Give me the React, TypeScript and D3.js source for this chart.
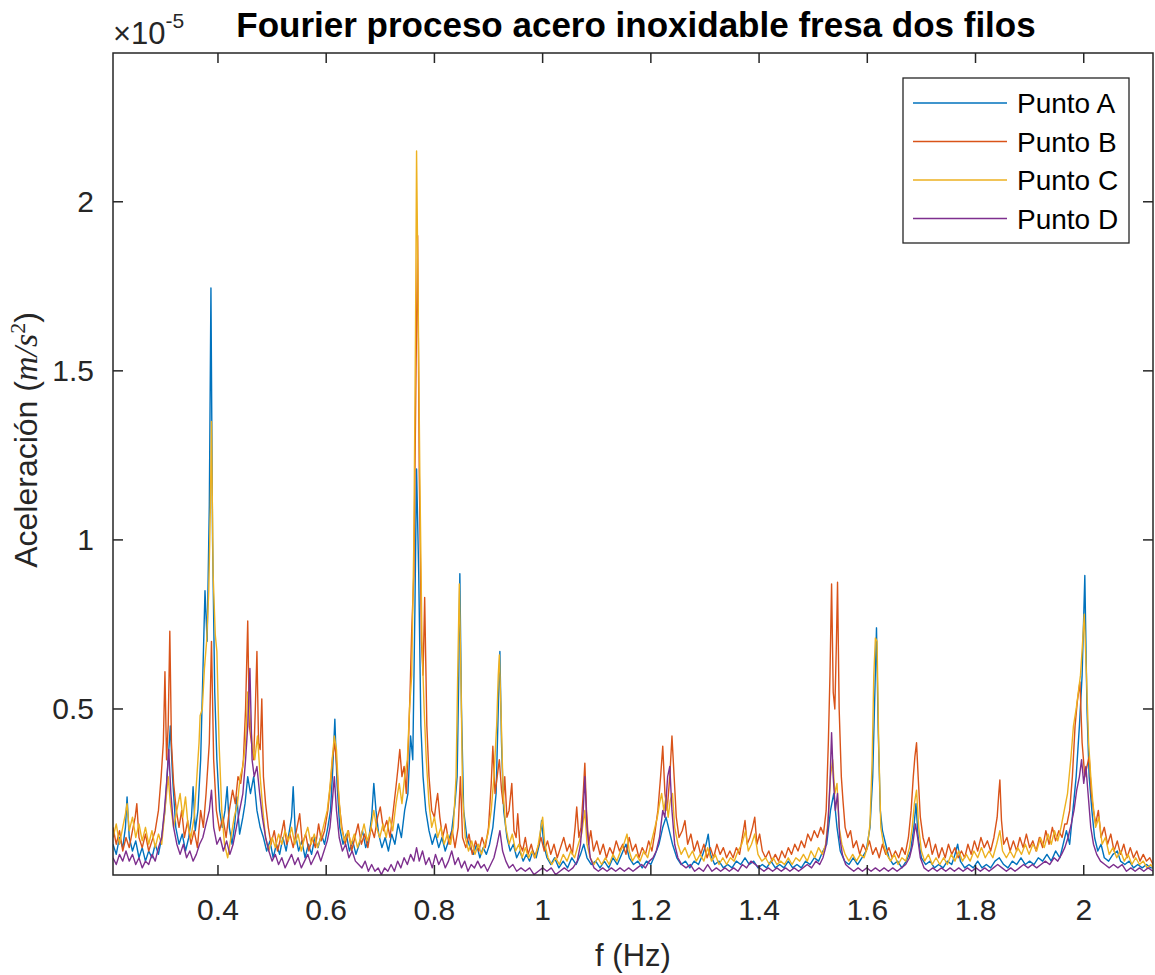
import React from "react";
import * as d3 from "d3";

const seriesNames = ["Punto A", "Punto B", "Punto C", "Punto D"];
const seriesColors = ["#0072BD", "#D95319", "#EDB120", "#7E2F8E"];
const xTicks = [0.4, 0.6, 0.8, 1, 1.2, 1.4, 1.6, 1.8, 2];
const yTicks = [0.5, 1, 1.5, 2];
const xDomain = [0.206, 2.128];
const yDomain = [0.009, 2.44];

// [frequency (Hz), acceleration (x1e-5 m/s^2)]
const puntoA: [number, number][] = [[0.206,0.10],[0.212,0.07],[0.218,0.12],[0.224,0.09],[0.229,0.15],[0.232,0.24],[0.236,0.12],[0.242,0.08],[0.248,0.11],[0.254,0.06],[0.26,0.09],[0.266,0.05],[0.272,0.08],[0.278,0.06],[0.284,0.1],[0.29,0.07],[0.296,0.12],[0.302,0.2],[0.308,0.35],[0.312,0.45],[0.316,0.3],[0.322,0.15],[0.328,0.1],[0.334,0.13],[0.34,0.08],[0.346,0.12],[0.351,0.18],[0.354,0.27],[0.358,0.14],[0.363,0.2],[0.368,0.35],[0.372,0.6],[0.376,0.85],[0.38,0.7],[0.384,1.1],[0.387,1.745],[0.39,1.0],[0.394,0.55],[0.398,0.35],[0.403,0.2],[0.408,0.15],[0.413,0.2],[0.417,0.27],[0.421,0.15],[0.426,0.1],[0.431,0.16],[0.435,0.24],[0.44,0.13],[0.446,0.18],[0.45,0.22],[0.455,0.3],[0.46,0.25],[0.466,0.3],[0.472,0.2],[0.478,0.15],[0.484,0.12],[0.49,0.08],[0.496,0.11],[0.502,0.06],[0.508,0.1],[0.514,0.07],[0.52,0.12],[0.526,0.08],[0.532,0.14],[0.536,0.18],[0.539,0.27],[0.543,0.13],[0.549,0.08],[0.555,0.11],[0.561,0.06],[0.567,0.1],[0.573,0.07],[0.579,0.12],[0.585,0.09],[0.591,0.13],[0.597,0.1],[0.603,0.15],[0.608,0.2],[0.612,0.32],[0.616,0.47],[0.62,0.28],[0.625,0.15],[0.631,0.1],[0.637,0.13],[0.643,0.08],[0.649,0.11],[0.655,0.07],[0.661,0.1],[0.667,0.14],[0.673,0.09],[0.679,0.12],[0.684,0.18],[0.688,0.28],[0.692,0.2],[0.697,0.13],[0.703,0.09],[0.709,0.12],[0.715,0.08],[0.721,0.13],[0.727,0.1],[0.733,0.16],[0.739,0.12],[0.745,0.2],[0.751,0.25],[0.756,0.42],[0.76,0.35],[0.764,0.8],[0.767,1.21],[0.771,0.9],[0.775,0.45],[0.779,0.3],[0.784,0.2],[0.79,0.14],[0.796,0.1],[0.802,0.13],[0.808,0.09],[0.814,0.12],[0.82,0.08],[0.826,0.11],[0.832,0.14],[0.838,0.22],[0.842,0.3],[0.845,0.6],[0.847,0.9],[0.85,0.5],[0.854,0.2],[0.86,0.12],[0.866,0.09],[0.872,0.07],[0.878,0.1],[0.884,0.06],[0.89,0.09],[0.896,0.07],[0.902,0.1],[0.908,0.15],[0.914,0.25],[0.918,0.5],[0.921,0.67],[0.924,0.4],[0.928,0.2],[0.934,0.12],[0.94,0.08],[0.946,0.1],[0.952,0.06],[0.958,0.08],[0.964,0.05],[0.97,0.07],[0.976,0.05],[0.982,0.08],[0.988,0.06],[0.994,0.1],[0.998,0.17],[1.002,0.1],[1.008,0.06],[1.015,0.04],[1.022,0.06],[1.03,0.03],[1.038,0.05],[1.046,0.03],[1.054,0.06],[1.062,0.04],[1.07,0.07],[1.076,0.1],[1.082,0.06],[1.09,0.04],[1.098,0.05],[1.106,0.03],[1.114,0.05],[1.122,0.03],[1.13,0.06],[1.138,0.04],[1.146,0.07],[1.154,0.1],[1.16,0.06],[1.168,0.04],[1.176,0.05],[1.184,0.03],[1.192,0.05],[1.2,0.04],[1.208,0.07],[1.215,0.1],[1.222,0.15],[1.228,0.18],[1.234,0.14],[1.24,0.1],[1.248,0.06],[1.256,0.04],[1.264,0.05],[1.272,0.03],[1.28,0.05],[1.288,0.04],[1.296,0.07],[1.302,0.1],[1.306,0.13],[1.31,0.07],[1.318,0.04],[1.326,0.05],[1.334,0.03],[1.342,0.04],[1.35,0.03],[1.358,0.05],[1.366,0.04],[1.374,0.06],[1.382,0.04],[1.39,0.05],[1.398,0.03],[1.406,0.04],[1.414,0.03],[1.422,0.05],[1.43,0.03],[1.438,0.04],[1.446,0.03],[1.454,0.05],[1.462,0.03],[1.47,0.04],[1.478,0.03],[1.486,0.05],[1.494,0.04],[1.502,0.06],[1.51,0.05],[1.518,0.08],[1.525,0.1],[1.532,0.2],[1.538,0.25],[1.544,0.15],[1.55,0.08],[1.558,0.05],[1.566,0.04],[1.574,0.06],[1.582,0.04],[1.59,0.06],[1.598,0.08],[1.605,0.15],[1.61,0.3],[1.614,0.55],[1.617,0.74],[1.62,0.45],[1.624,0.2],[1.628,0.14],[1.634,0.1],[1.64,0.06],[1.648,0.04],[1.656,0.05],[1.664,0.03],[1.672,0.05],[1.68,0.08],[1.686,0.15],[1.69,0.22],[1.694,0.12],[1.7,0.06],[1.708,0.04],[1.716,0.05],[1.724,0.03],[1.732,0.04],[1.74,0.03],[1.748,0.05],[1.756,0.04],[1.762,0.07],[1.767,0.1],[1.772,0.05],[1.78,0.03],[1.788,0.04],[1.796,0.03],[1.804,0.05],[1.812,0.03],[1.82,0.04],[1.828,0.03],[1.836,0.05],[1.844,0.06],[1.852,0.04],[1.86,0.03],[1.868,0.05],[1.876,0.04],[1.884,0.06],[1.892,0.04],[1.9,0.05],[1.908,0.04],[1.916,0.06],[1.924,0.05],[1.932,0.07],[1.94,0.05],[1.948,0.08],[1.956,0.06],[1.962,0.1],[1.968,0.14],[1.974,0.1],[1.98,0.2],[1.986,0.3],[1.992,0.45],[1.997,0.6],[2.002,0.895],[2.006,0.5],[2.01,0.3],[2.015,0.2],[2.02,0.12],[2.026,0.08],[2.032,0.1],[2.038,0.06],[2.046,0.05],[2.054,0.07],[2.062,0.08],[2.068,0.05],[2.076,0.04],[2.084,0.05],[2.092,0.03],[2.1,0.04],[2.108,0.03],[2.116,0.04],[2.124,0.03],[2.128,0.03]];

const puntoB: [number, number][] = [[0.206,0.15],[0.212,0.1],[0.218,0.14],[0.224,0.08],[0.23,0.12],[0.236,0.09],[0.242,0.14],[0.247,0.18],[0.25,0.22],[0.254,0.12],[0.26,0.09],[0.266,0.13],[0.272,0.08],[0.278,0.11],[0.284,0.14],[0.29,0.2],[0.295,0.3],[0.299,0.4],[0.302,0.61],[0.305,0.35],[0.308,0.45],[0.311,0.73],[0.314,0.4],[0.318,0.28],[0.323,0.2],[0.328,0.15],[0.333,0.2],[0.338,0.12],[0.344,0.17],[0.35,0.1],[0.356,0.14],[0.362,0.09],[0.368,0.2],[0.373,0.15],[0.378,0.25],[0.384,0.4],[0.388,0.7],[0.392,0.35],[0.397,0.2],[0.403,0.14],[0.409,0.18],[0.415,0.12],[0.421,0.2],[0.427,0.26],[0.432,0.22],[0.437,0.3],[0.442,0.28],[0.447,0.35],[0.451,0.5],[0.455,0.76],[0.458,0.45],[0.462,0.4],[0.466,0.35],[0.469,0.5],[0.472,0.67],[0.475,0.4],[0.478,0.38],[0.481,0.53],[0.484,0.3],[0.488,0.22],[0.493,0.15],[0.498,0.1],[0.504,0.14],[0.51,0.08],[0.516,0.12],[0.522,0.17],[0.527,0.1],[0.533,0.13],[0.539,0.09],[0.545,0.14],[0.551,0.19],[0.556,0.1],[0.562,0.13],[0.568,0.08],[0.574,0.12],[0.58,0.09],[0.586,0.16],[0.591,0.11],[0.597,0.14],[0.603,0.2],[0.608,0.28],[0.612,0.36],[0.616,0.4],[0.62,0.32],[0.624,0.22],[0.629,0.15],[0.635,0.1],[0.641,0.14],[0.647,0.08],[0.653,0.12],[0.659,0.16],[0.665,0.1],[0.671,0.13],[0.677,0.09],[0.683,0.15],[0.689,0.12],[0.695,0.18],[0.7,0.21],[0.706,0.14],[0.712,0.17],[0.718,0.12],[0.724,0.2],[0.729,0.27],[0.733,0.33],[0.736,0.38],[0.74,0.3],[0.744,0.33],[0.748,0.25],[0.752,0.4],[0.755,0.55],[0.758,0.73],[0.762,0.9],[0.766,1.5],[0.769,1.9],[0.772,1.2],[0.776,0.7],[0.779,0.6],[0.782,0.83],[0.786,0.45],[0.79,0.3],[0.795,0.2],[0.8,0.18],[0.803,0.22],[0.806,0.25],[0.81,0.18],[0.815,0.12],[0.821,0.16],[0.827,0.1],[0.833,0.14],[0.838,0.09],[0.844,0.15],[0.848,0.3],[0.852,0.12],[0.858,0.09],[0.864,0.13],[0.87,0.07],[0.876,0.11],[0.882,0.08],[0.888,0.12],[0.894,0.09],[0.9,0.15],[0.905,0.28],[0.908,0.39],[0.912,0.25],[0.916,0.3],[0.92,0.35],[0.924,0.26],[0.927,0.22],[0.93,0.3],[0.934,0.18],[0.938,0.2],[0.943,0.28],[0.947,0.14],[0.951,0.12],[0.954,0.19],[0.958,0.1],[0.963,0.08],[0.968,0.12],[0.973,0.07],[0.979,0.1],[0.985,0.06],[0.991,0.09],[0.997,0.12],[1.003,0.08],[1.009,0.11],[1.015,0.07],[1.021,0.1],[1.027,0.06],[1.033,0.09],[1.039,0.12],[1.045,0.08],[1.05,0.1],[1.055,0.07],[1.06,0.15],[1.063,0.21],[1.067,0.12],[1.071,0.15],[1.075,0.25],[1.078,0.34],[1.081,0.2],[1.085,0.1],[1.089,0.14],[1.094,0.08],[1.1,0.11],[1.106,0.07],[1.112,0.1],[1.118,0.06],[1.124,0.09],[1.13,0.07],[1.136,0.11],[1.142,0.08],[1.148,0.1],[1.154,0.07],[1.16,0.12],[1.166,0.08],[1.172,0.1],[1.178,0.06],[1.184,0.09],[1.19,0.07],[1.196,0.11],[1.202,0.08],[1.208,0.14],[1.213,0.2],[1.218,0.3],[1.222,0.39],[1.226,0.25],[1.23,0.2],[1.235,0.3],[1.239,0.42],[1.243,0.3],[1.247,0.18],[1.252,0.12],[1.258,0.14],[1.263,0.17],[1.268,0.1],[1.274,0.13],[1.28,0.08],[1.286,0.11],[1.292,0.07],[1.298,0.1],[1.304,0.06],[1.31,0.09],[1.316,0.06],[1.322,0.1],[1.328,0.07],[1.334,0.09],[1.34,0.06],[1.346,0.08],[1.352,0.06],[1.358,0.09],[1.364,0.07],[1.369,0.12],[1.374,0.17],[1.378,0.1],[1.383,0.12],[1.388,0.15],[1.392,0.18],[1.396,0.1],[1.401,0.13],[1.406,0.08],[1.412,0.06],[1.418,0.08],[1.424,0.05],[1.43,0.07],[1.436,0.05],[1.442,0.08],[1.448,0.06],[1.454,0.09],[1.46,0.07],[1.466,0.1],[1.472,0.08],[1.478,0.11],[1.484,0.09],[1.49,0.13],[1.496,0.11],[1.502,0.14],[1.508,0.12],[1.514,0.15],[1.519,0.13],[1.524,0.2],[1.528,0.4],[1.531,0.6],[1.534,0.87],[1.537,0.55],[1.54,0.5],[1.543,0.7],[1.545,0.875],[1.548,0.5],[1.552,0.3],[1.555,0.23],[1.559,0.15],[1.564,0.12],[1.569,0.14],[1.574,0.09],[1.58,0.11],[1.586,0.07],[1.592,0.1],[1.598,0.08],[1.604,0.11],[1.61,0.07],[1.616,0.09],[1.622,0.06],[1.628,0.1],[1.634,0.07],[1.64,0.09],[1.646,0.06],[1.652,0.08],[1.658,0.06],[1.664,0.09],[1.67,0.07],[1.676,0.12],[1.681,0.2],[1.685,0.3],[1.688,0.36],[1.691,0.4],[1.694,0.3],[1.698,0.18],[1.703,0.12],[1.708,0.09],[1.714,0.12],[1.72,0.07],[1.726,0.1],[1.732,0.06],[1.738,0.09],[1.744,0.06],[1.75,0.1],[1.756,0.07],[1.762,0.09],[1.768,0.06],[1.774,0.08],[1.78,0.06],[1.786,0.1],[1.792,0.07],[1.798,0.11],[1.804,0.08],[1.81,0.12],[1.816,0.09],[1.822,0.11],[1.828,0.08],[1.834,0.12],[1.84,0.18],[1.843,0.25],[1.845,0.29],[1.848,0.17],[1.852,0.1],[1.858,0.12],[1.864,0.08],[1.87,0.11],[1.876,0.08],[1.882,0.12],[1.888,0.09],[1.894,0.13],[1.9,0.09],[1.906,0.11],[1.912,0.08],[1.918,0.12],[1.924,0.09],[1.93,0.14],[1.936,0.1],[1.942,0.15],[1.948,0.11],[1.954,0.14],[1.96,0.12],[1.965,0.16],[1.969,0.16],[1.974,0.2],[1.979,0.3],[1.984,0.45],[1.988,0.52],[1.993,0.58],[1.997,0.4],[2.002,0.3],[2.006,0.33],[2.01,0.36],[2.014,0.25],[2.018,0.2],[2.022,0.16],[2.027,0.2],[2.032,0.12],[2.038,0.15],[2.044,0.1],[2.05,0.13],[2.056,0.08],[2.062,0.11],[2.068,0.07],[2.074,0.1],[2.08,0.06],[2.086,0.09],[2.092,0.06],[2.098,0.08],[2.104,0.05],[2.11,0.07],[2.116,0.05],[2.122,0.06],[2.128,0.04]];

const puntoC: [number, number][] = [[0.206,0.12],[0.212,0.16],[0.218,0.1],[0.224,0.15],[0.229,0.19],[0.232,0.22],[0.236,0.14],[0.242,0.18],[0.248,0.12],[0.254,0.16],[0.26,0.11],[0.266,0.15],[0.272,0.1],[0.278,0.14],[0.284,0.09],[0.29,0.13],[0.296,0.1],[0.302,0.2],[0.308,0.3],[0.312,0.22],[0.318,0.15],[0.324,0.2],[0.33,0.25],[0.335,0.18],[0.34,0.24],[0.345,0.15],[0.35,0.12],[0.356,0.18],[0.361,0.3],[0.365,0.4],[0.367,0.48],[0.371,0.5],[0.375,0.62],[0.379,0.7],[0.383,0.85],[0.386,1.1],[0.388,1.35],[0.391,0.9],[0.395,0.72],[0.398,0.67],[0.402,0.4],[0.407,0.2],[0.412,0.1],[0.418,0.06],[0.424,0.12],[0.43,0.18],[0.436,0.22],[0.441,0.3],[0.446,0.33],[0.451,0.4],[0.455,0.55],[0.459,0.48],[0.463,0.4],[0.468,0.35],[0.473,0.42],[0.478,0.3],[0.483,0.2],[0.488,0.12],[0.494,0.08],[0.5,0.12],[0.506,0.09],[0.512,0.13],[0.518,0.1],[0.524,0.14],[0.53,0.11],[0.536,0.15],[0.542,0.1],[0.548,0.13],[0.554,0.08],[0.56,0.12],[0.566,0.15],[0.572,0.1],[0.578,0.13],[0.584,0.09],[0.59,0.12],[0.596,0.16],[0.602,0.2],[0.607,0.27],[0.611,0.35],[0.615,0.42],[0.619,0.38],[0.623,0.25],[0.628,0.15],[0.634,0.11],[0.64,0.14],[0.646,0.1],[0.652,0.13],[0.658,0.09],[0.664,0.12],[0.67,0.16],[0.676,0.11],[0.682,0.14],[0.688,0.2],[0.693,0.15],[0.699,0.12],[0.705,0.16],[0.711,0.12],[0.717,0.18],[0.723,0.14],[0.729,0.22],[0.735,0.28],[0.74,0.22],[0.745,0.3],[0.75,0.35],[0.754,0.5],[0.758,0.6],[0.762,1.0],[0.765,1.6],[0.767,2.15],[0.77,1.7],[0.773,1.2],[0.777,0.7],[0.781,0.5],[0.785,0.35],[0.79,0.22],[0.795,0.15],[0.8,0.18],[0.806,0.12],[0.812,0.15],[0.818,0.1],[0.824,0.13],[0.83,0.1],[0.835,0.15],[0.84,0.3],[0.843,0.6],[0.846,0.87],[0.849,0.6],[0.852,0.25],[0.857,0.12],[0.863,0.08],[0.869,0.11],[0.875,0.07],[0.881,0.1],[0.887,0.07],[0.893,0.1],[0.899,0.13],[0.905,0.2],[0.91,0.3],[0.915,0.45],[0.918,0.6],[0.92,0.66],[0.923,0.5],[0.927,0.25],[0.932,0.15],[0.938,0.1],[0.944,0.13],[0.95,0.08],[0.956,0.1],[0.962,0.06],[0.968,0.09],[0.974,0.06],[0.98,0.08],[0.986,0.06],[0.992,0.1],[0.996,0.14],[1.0,0.18],[1.004,0.1],[1.01,0.06],[1.017,0.04],[1.024,0.06],[1.031,0.04],[1.038,0.07],[1.045,0.05],[1.052,0.08],[1.059,0.06],[1.066,0.1],[1.072,0.13],[1.078,0.2],[1.082,0.1],[1.088,0.06],[1.095,0.04],[1.102,0.06],[1.109,0.04],[1.116,0.06],[1.123,0.04],[1.13,0.07],[1.137,0.05],[1.144,0.08],[1.15,0.1],[1.156,0.13],[1.16,0.08],[1.166,0.05],[1.173,0.07],[1.18,0.05],[1.187,0.08],[1.194,0.06],[1.2,0.1],[1.206,0.14],[1.212,0.18],[1.216,0.22],[1.22,0.25],[1.224,0.2],[1.228,0.24],[1.232,0.18],[1.236,0.23],[1.24,0.25],[1.244,0.15],[1.25,0.1],[1.256,0.07],[1.263,0.09],[1.27,0.06],[1.277,0.08],[1.284,0.05],[1.291,0.07],[1.298,0.05],[1.305,0.09],[1.312,0.05],[1.319,0.07],[1.326,0.04],[1.333,0.06],[1.34,0.04],[1.347,0.06],[1.354,0.05],[1.361,0.08],[1.368,0.1],[1.375,0.14],[1.38,0.08],[1.386,0.1],[1.392,0.13],[1.398,0.07],[1.405,0.05],[1.412,0.06],[1.419,0.04],[1.426,0.06],[1.433,0.04],[1.44,0.05],[1.447,0.04],[1.454,0.06],[1.461,0.04],[1.468,0.06],[1.475,0.05],[1.482,0.07],[1.489,0.05],[1.496,0.08],[1.503,0.06],[1.51,0.09],[1.517,0.07],[1.523,0.1],[1.528,0.18],[1.532,0.3],[1.536,0.35],[1.54,0.25],[1.544,0.28],[1.548,0.15],[1.553,0.1],[1.559,0.07],[1.566,0.05],[1.573,0.07],[1.58,0.05],[1.587,0.07],[1.594,0.06],[1.6,0.09],[1.605,0.16],[1.609,0.35],[1.612,0.6],[1.615,0.71],[1.618,0.7],[1.621,0.4],[1.625,0.15],[1.63,0.1],[1.636,0.07],[1.643,0.05],[1.65,0.07],[1.657,0.04],[1.664,0.06],[1.671,0.05],[1.678,0.09],[1.683,0.15],[1.687,0.22],[1.691,0.26],[1.695,0.15],[1.7,0.08],[1.706,0.05],[1.713,0.07],[1.72,0.04],[1.727,0.06],[1.734,0.04],[1.741,0.06],[1.748,0.04],[1.755,0.07],[1.762,0.05],[1.769,0.08],[1.776,0.05],[1.783,0.07],[1.79,0.05],[1.797,0.08],[1.804,0.06],[1.811,0.09],[1.818,0.06],[1.825,0.08],[1.832,0.06],[1.839,0.1],[1.845,0.14],[1.85,0.08],[1.857,0.06],[1.864,0.08],[1.871,0.06],[1.878,0.09],[1.885,0.07],[1.892,0.1],[1.899,0.07],[1.906,0.1],[1.913,0.08],[1.92,0.12],[1.927,0.09],[1.934,0.13],[1.94,0.1],[1.946,0.14],[1.952,0.11],[1.958,0.15],[1.964,0.2],[1.97,0.25],[1.976,0.35],[1.981,0.45],[1.986,0.5],[1.99,0.55],[1.994,0.6],[1.998,0.7],[2.001,0.78],[2.005,0.6],[2.009,0.4],[2.013,0.3],[2.017,0.22],[2.022,0.15],[2.028,0.18],[2.034,0.1],[2.04,0.12],[2.047,0.07],[2.054,0.09],[2.061,0.06],[2.068,0.08],[2.075,0.05],[2.082,0.07],[2.089,0.04],[2.096,0.06],[2.103,0.04],[2.11,0.05],[2.117,0.03],[2.124,0.04],[2.128,0.03]];

const puntoD: [number, number][] = [[0.206,0.06],[0.212,0.04],[0.218,0.07],[0.224,0.05],[0.23,0.08],[0.236,0.05],[0.242,0.07],[0.248,0.04],[0.254,0.06],[0.26,0.03],[0.266,0.05],[0.272,0.04],[0.278,0.07],[0.284,0.05],[0.29,0.09],[0.296,0.12],[0.301,0.2],[0.305,0.28],[0.309,0.38],[0.313,0.25],[0.318,0.15],[0.324,0.1],[0.33,0.07],[0.336,0.1],[0.342,0.06],[0.348,0.08],[0.354,0.05],[0.36,0.07],[0.366,0.1],[0.372,0.12],[0.378,0.16],[0.384,0.2],[0.388,0.26],[0.392,0.15],[0.398,0.1],[0.404,0.12],[0.41,0.08],[0.416,0.11],[0.422,0.07],[0.428,0.1],[0.434,0.15],[0.44,0.2],[0.446,0.25],[0.451,0.35],[0.455,0.45],[0.459,0.62],[0.463,0.35],[0.467,0.3],[0.472,0.33],[0.477,0.25],[0.482,0.18],[0.488,0.12],[0.494,0.08],[0.5,0.05],[0.506,0.07],[0.512,0.04],[0.518,0.06],[0.524,0.03],[0.53,0.05],[0.536,0.07],[0.542,0.04],[0.548,0.06],[0.554,0.03],[0.56,0.05],[0.566,0.07],[0.572,0.04],[0.578,0.06],[0.584,0.08],[0.59,0.05],[0.596,0.08],[0.602,0.11],[0.607,0.15],[0.611,0.22],[0.615,0.3],[0.619,0.2],[0.624,0.12],[0.63,0.08],[0.636,0.1],[0.642,0.06],[0.648,0.08],[0.654,0.05],[0.66,0.04],[0.666,0.03],[0.672,0.05],[0.678,0.02],[0.684,0.04],[0.69,0.02],[0.696,0.03],[0.702,0.01],[0.708,0.03],[0.714,0.02],[0.72,0.04],[0.726,0.02],[0.732,0.05],[0.738,0.03],[0.744,0.06],[0.75,0.04],[0.756,0.07],[0.762,0.05],[0.767,0.09],[0.772,0.05],[0.778,0.08],[0.784,0.04],[0.79,0.06],[0.796,0.03],[0.802,0.07],[0.808,0.04],[0.814,0.06],[0.82,0.03],[0.826,0.05],[0.832,0.08],[0.838,0.04],[0.844,0.06],[0.85,0.03],[0.856,0.05],[0.862,0.02],[0.868,0.04],[0.874,0.03],[0.88,0.05],[0.886,0.03],[0.892,0.04],[0.898,0.02],[0.904,0.04],[0.91,0.06],[0.916,0.1],[0.921,0.14],[0.926,0.08],[0.932,0.05],[0.938,0.03],[0.945,0.04],[0.952,0.02],[0.96,0.03],[0.968,0.02],[0.976,0.03],[0.984,0.01],[0.992,0.02],[1.0,0.03],[1.008,0.02],[1.016,0.03],[1.024,0.01],[1.032,0.02],[1.04,0.03],[1.048,0.02],[1.056,0.03],[1.064,0.05],[1.07,0.1],[1.075,0.2],[1.078,0.3],[1.082,0.15],[1.088,0.06],[1.095,0.03],[1.103,0.02],[1.111,0.03],[1.119,0.02],[1.127,0.03],[1.135,0.02],[1.143,0.03],[1.151,0.02],[1.159,0.03],[1.167,0.02],[1.175,0.03],[1.183,0.04],[1.19,0.03],[1.197,0.05],[1.204,0.06],[1.21,0.08],[1.216,0.12],[1.222,0.2],[1.226,0.18],[1.231,0.3],[1.235,0.33],[1.239,0.2],[1.244,0.1],[1.25,0.06],[1.257,0.04],[1.265,0.03],[1.273,0.04],[1.281,0.02],[1.289,0.03],[1.297,0.02],[1.305,0.04],[1.313,0.02],[1.321,0.03],[1.329,0.02],[1.337,0.03],[1.345,0.02],[1.353,0.03],[1.361,0.02],[1.369,0.04],[1.377,0.03],[1.385,0.05],[1.393,0.04],[1.401,0.03],[1.409,0.02],[1.417,0.03],[1.425,0.02],[1.433,0.03],[1.441,0.02],[1.449,0.03],[1.457,0.02],[1.465,0.03],[1.473,0.02],[1.481,0.03],[1.489,0.04],[1.497,0.03],[1.505,0.05],[1.512,0.04],[1.518,0.06],[1.523,0.09],[1.527,0.15],[1.531,0.28],[1.534,0.43],[1.537,0.3],[1.541,0.2],[1.545,0.25],[1.549,0.12],[1.554,0.07],[1.56,0.04],[1.567,0.03],[1.575,0.02],[1.583,0.03],[1.591,0.02],[1.599,0.03],[1.607,0.02],[1.615,0.03],[1.623,0.02],[1.631,0.03],[1.639,0.02],[1.647,0.03],[1.655,0.02],[1.663,0.03],[1.671,0.04],[1.678,0.06],[1.684,0.1],[1.689,0.16],[1.693,0.12],[1.698,0.06],[1.705,0.03],[1.713,0.02],[1.721,0.03],[1.729,0.02],[1.737,0.03],[1.745,0.02],[1.753,0.03],[1.761,0.02],[1.769,0.03],[1.777,0.02],[1.785,0.03],[1.793,0.02],[1.801,0.03],[1.809,0.02],[1.817,0.03],[1.825,0.02],[1.833,0.03],[1.841,0.04],[1.849,0.03],[1.857,0.02],[1.865,0.03],[1.873,0.02],[1.881,0.03],[1.889,0.04],[1.897,0.03],[1.905,0.04],[1.913,0.03],[1.921,0.04],[1.929,0.05],[1.937,0.04],[1.945,0.06],[1.952,0.05],[1.959,0.07],[1.965,0.09],[1.971,0.12],[1.977,0.16],[1.982,0.2],[1.987,0.26],[1.992,0.3],[1.996,0.35],[2.0,0.28],[2.004,0.33],[2.008,0.25],[2.013,0.15],[2.018,0.1],[2.024,0.07],[2.031,0.05],[2.039,0.04],[2.047,0.03],[2.055,0.04],[2.063,0.03],[2.071,0.04],[2.079,0.02],[2.087,0.03],[2.095,0.02],[2.103,0.03],[2.111,0.02],[2.119,0.03],[2.128,0.02]];

const allSeries = [puntoA, puntoB, puntoC, puntoD];

const W = 1155;
const H = 975;
const M = { left: 113, right: 1153, top: 53, bottom: 875 };
const AX = "#262626";
const SANS = "'Liberation Sans', Arial, Helvetica, sans-serif";
const SERIF = "'Liberation Serif', 'DejaVu Serif', serif";

export default function App() {
  const x = d3.scaleLinear().domain(xDomain).range([M.left, M.right]);
  const y = d3.scaleLinear().domain(yDomain).range([M.bottom, M.top]);
  const line = d3
    .line<[number, number]>()
    .x((d) => x(d[0]))
    .y((d) => y(d[1]));
  const tickLen = 10;

  return (
    <svg
      width={W}
      height={H}
      style={{ position: "absolute", left: 0, top: 0, background: "#fff" }}
      fontFamily={SANS}
    >
      <rect x={0} y={0} width={W} height={H} fill="#fff" />
      <defs>
        <clipPath id="plotclip">
          <rect x={M.left} y={M.top} width={M.right - M.left} height={M.bottom - M.top} />
        </clipPath>
      </defs>
      <g clipPath="url(#plotclip)">
        {allSeries.map((s, i) => (
          <path
            key={i}
            d={line(s) || ""}
            fill="none"
            stroke={seriesColors[i]}
            strokeWidth={1.4}
            strokeLinejoin="round"
          />
        ))}
      </g>
      <rect
        x={M.left}
        y={M.top}
        width={M.right - M.left}
        height={M.bottom - M.top}
        fill="none"
        stroke={AX}
        strokeWidth={1.5}
      />
      {xTicks.map((t) => (
        <g key={"x" + t}>
          <line x1={x(t)} x2={x(t)} y1={M.bottom} y2={M.bottom - tickLen} stroke={AX} strokeWidth={1.5} />
          <line x1={x(t)} x2={x(t)} y1={M.top} y2={M.top + tickLen} stroke={AX} strokeWidth={1.5} />
          <text x={x(t)} y={920} textAnchor="middle" fontSize={30} fill={AX}>
            {String(t)}
          </text>
        </g>
      ))}
      {yTicks.map((t) => (
        <g key={"y" + t}>
          <line x1={M.left} x2={M.left + tickLen} y1={y(t)} y2={y(t)} stroke={AX} strokeWidth={1.5} />
          <line x1={M.right} x2={M.right - tickLen} y1={y(t)} y2={y(t)} stroke={AX} strokeWidth={1.5} />
          <text x={94} y={y(t) + 10} textAnchor="end" fontSize={30} fill={AX}>
            {String(t)}
          </text>
        </g>
      ))}
      <text x={113} y={44} fontSize={31} fill={AX}>
        ×10
        <tspan dy={-16} fontSize={21}>-5</tspan>
      </text>
      <text x={636} y={37} textAnchor="middle" fontSize={35} fontWeight="bold" fill="#000">
        Fourier proceso acero inoxidable fresa dos filos
      </text>
      <text x={633} y={966} textAnchor="middle" fontSize={31} fill={AX}>
        f (Hz)
      </text>
      <text
        transform={`translate(37, 440) rotate(-90)`}
        textAnchor="middle"
        fontSize={32}
        fill={AX}
      >
        Aceleración (
        <tspan fontFamily={SERIF} fontStyle="italic" fontSize={34}>m/s</tspan>
        <tspan dy={-12} fontSize={22} fontFamily={SERIF}>2</tspan>
        <tspan dy={12}>)</tspan>
      </text>
      <g>
        <rect x={903} y={78} width={226} height={165} fill="#fff" stroke={AX} strokeWidth={1.3} />
        {seriesNames.map((n, i) => {
          const ly = 103 + i * 38.5;
          return (
            <g key={n}>
              <line x1={913} x2={1007} y1={ly} y2={ly} stroke={seriesColors[i]} strokeWidth={1.4} />
              <text x={1017} y={ly + 10} fontSize={28} fill="#000">
                {n}
              </text>
            </g>
          );
        })}
      </g>
    </svg>
  );
}
